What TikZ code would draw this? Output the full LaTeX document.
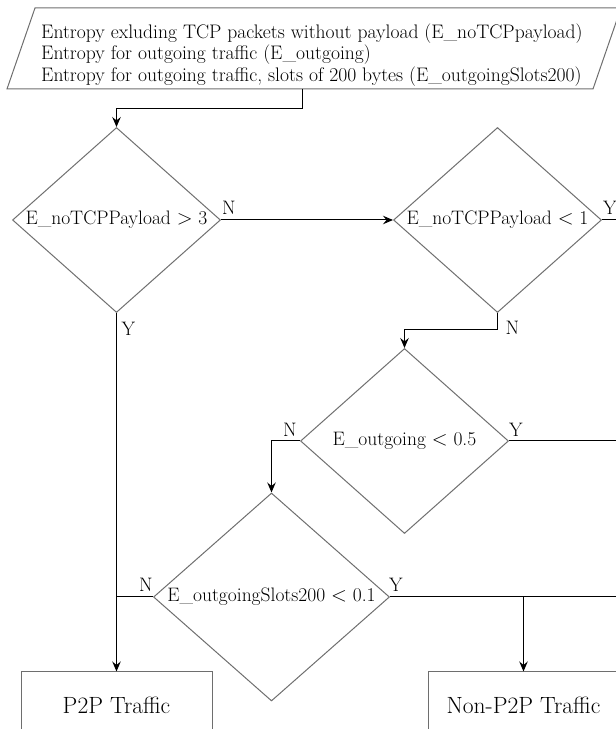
\documentclass[tikz,border=0pt]{standalone}
\usetikzlibrary{shapes.geometric,arrows.meta,calc}
\definecolor{bord}{HTML}{6E6E6E}
\newcommand{\dtext}[1]{\makebox[0pt]{#1}}
\begin{document}
\begin{tikzpicture}[x=1pt,y=1pt,
  font=\fontsize{19.5}{21.5}\selectfont,
  decision/.style={diamond, draw=bord, line width=1pt, inner sep=0pt,
    minimum width=208pt, minimum height=185pt, align=center},
  bigdecision/.style={decision, minimum width=236pt, minimum height=208pt},
  outbox/.style={rectangle, draw=bord, line width=1pt,
    minimum width=191pt, minimum height=66pt, font=\fontsize{23.5}{26}\selectfont},
  conn/.style={line width=1pt, draw=black},
  arr/.style={conn, -{Stealth[length=10pt,width=8.5pt,inset=3.5pt]}},
  lab/.style={inner sep=0pt}
]
\useasboundingbox (0,0) rectangle (616,729);
\clip (0,0) rectangle (616,729);

% input parallelogram
\draw[draw=bord, line width=1pt] (7,640) -- (35,721) -- (621,721) -- (593,640) -- cycle;
\node[anchor=west, align=left, inner sep=0pt, font=\fontsize{19.6}{21.5}\selectfont] (in) at (41,674)
  {Entropy exluding TCP packets without payload (E\_noTCPpayload)\\
   Entropy for outgoing traffic (E\_outgoing)\\
   Entropy for outgoing traffic, slots of 200 bytes (E\_outgoingSlots200)};
\coordinate (inb) at (302,640);

% decisions
\node[decision] (d1) at (116.5,509) {\dtext{E\_noTCPPayload $>$ 3}};
\node[decision] (d2) at (497.5,509) {\dtext{E\_noTCPPayload $<$ 1}};
\node[decision] (d3) at (404.5,288) {\dtext{E\_outgoing $<$ 0.5}};
\node[bigdecision] (d4) at (271.5,132) {\dtext{E\_outgoingSlots200 $<$ 0.1}};

% outputs
\node[outbox] (p2p) at (116.5,24) {P2P Traffic};
\node[outbox] (np2p) at (523.5,24) {Non-P2P Traffic};

% right edge
\coordinate (eR) at (620,0);

% connectors
\draw[arr] (inb) |- ($(d1.north)+(0,18)$) -- (d1.north);
\draw[arr] (d1.east) -- (d2.west);
\draw[arr] (d1.south) -- (p2p.north);
\draw[conn] (d2.east) -- (d2.east -| eR);
\draw[arr] (d2.south) -- ++(0,-17) -| (d3.north);
\draw[arr] (d3.west) -| (d4.north);
\draw[conn] (d3.east) -- (d3.east -| eR);
\draw[conn] (d4.west) -- (d4.west -| p2p.north);
\draw[conn] (d4.east) -- (d4.east -| eR);
\draw[arr] (d4.east -| np2p.north) -- (np2p.north);

% labels
\node[lab] (l1) at ($(d1.east)+(8,12)$) {N};
\node[lab] (l2) at ($(d1.south)+(12,-16)$) {Y};
\node[lab] (l3) at ($(d2.east)+(8,12)$) {Y};
\node[lab] (l4) at ($(d2.south)+(15,-15)$) {N};
\node[lab] (l5) at ($(d3.west)+(-10,11)$) {N};
\node[lab] (l6) at ($(d3.east)+(7,11)$) {Y};
\node[lab] (l7) at ($(d4.west)+(-7,12)$) {N};
\node[lab] (l8) at ($(d4.east)+(6,12)$) {Y};
\end{tikzpicture}
\end{document}
